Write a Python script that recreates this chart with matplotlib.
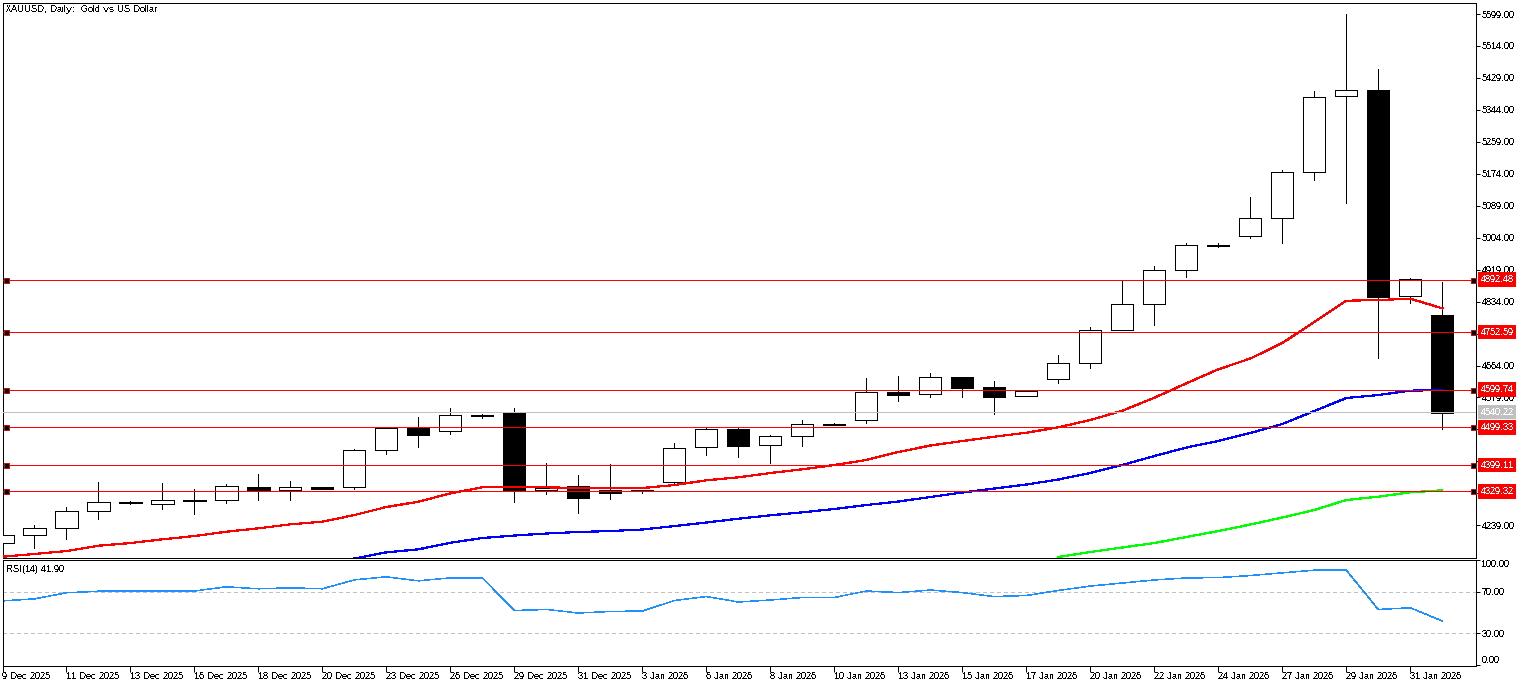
import numpy as np
import matplotlib
matplotlib.use("Agg")
import matplotlib.pyplot as plt

plt.rcParams['font.family'] = ['Liberation Sans', 'DejaVu Sans']
plt.rcParams['text.hinting'] = 'native'
plt.rcParams['text.hinting_factor'] = 1
FS = 6.5

opens = [4191.0, 4212.3, 4231.0, 4276.1, 4298.8, 4296.4, 4304.6, 4305.4, 4340.0, 4333.6,
         4340.0, 4340.0, 4438.4, 4497.0, 4489.0, 4530.7, 4540.3, 4333.6, 4342.6, 4332.8,
         4332.8, 4353.3, 4446.4, 4494.3, 4451.7, 4475.6, 4506.8, 4518.2, 4592.7, 4587.4,
         4633.4, 4606.8, 4582.0, 4627.3, 4669.8, 4757.6, 4826.8, 4917.2, 4982.4, 5008.4,
         5055.5, 5177.9, 5380.0, 5396.0, 4848.0, 4798.3]
closes = [4212.3, 4231.0, 4276.1, 4300.1, 4300.1, 4305.4, 4305.4, 4342.6, 4333.6, 4340.0,
          4336.3, 4438.4, 4497.0, 4479.9, 4531.5, 4531.5, 4333.6, 4338.1, 4312.3, 4325.7,
          4330.9, 4443.7, 4494.3, 4450.6, 4475.6, 4507.6, 4507.6, 4592.7, 4586.3, 4632.6,
          4604.9, 4581.0, 4595.3, 4669.8, 4757.6, 4826.8, 4917.2, 4984.5, 4983.7, 5056.3,
          5177.9, 5377.4, 5396.0, 4846.9, 4893.3, 4538.4]
highs = [4215.0, 4239.7, 4287.6, 4354.1, 4303.5, 4351.4, 4335.5, 4348.8, 4375.4, 4356.7,
         4340.0, 4441.9, 4497.7, 4527.0, 4550.9, 4535.8, 4550.9, 4403.8, 4372.7, 4401.1,
         4332.8, 4457.8, 4498.5, 4498.5, 4479.1, 4519.0, 4511.0, 4630.7, 4636.0, 4644.0,
         4633.4, 4622.7, 4599.6, 4691.9, 4765.6, 4888.7, 4928.6, 4989.8, 4989.8, 5112.2,
         5183.2, 5394.2, 5599.0, 5452.7, 4896.7, 4886.1]
lows = [4190.0, 4179.3, 4203.3, 4256.5, 4296.4, 4283.0, 4269.8, 4299.0, 4307.0, 4307.0,
        4336.3, 4336.3, 4429.4, 4448.0, 4482.6, 4525.1, 4301.7, 4323.0, 4272.4, 4309.7,
        4325.7, 4346.1, 4426.7, 4421.4, 4405.4, 4450.6, 4504.9, 4511.8, 4570.3, 4581.0,
        4581.0, 4535.8, 4582.0, 4618.2, 4658.1, 4757.6, 4772.5, 4900.2, 4979.2, 5003.1,
        4990.6, 5158.2, 5097.0, 4684.7, 4831.0, 4495.8]

ma_red = [4155.4, 4162.6, 4170.5, 4184.6, 4191.8, 4201.7, 4210.4, 4221.9, 4230.9, 4241.6,
          4248.5, 4266.3, 4287.6, 4301.7, 4324.0, 4340.0, 4340.8, 4340.0, 4338.1, 4338.1,
          4338.1, 4346.1, 4358.6, 4366.6, 4378.0, 4387.9, 4399.3, 4412.6, 4433.9, 4451.2,
          4463.1, 4474.6, 4485.2, 4499.6, 4519.0, 4543.7, 4578.3, 4616.6, 4653.9, 4682.6,
          4723.8, 4779.7, 4836.3, 4838.2, 4841.7, 4816.1]
# blue starts at bar 11, green at bar 33 (below the window before that)
ma_blue = [4150.6, 4167.1, 4175.0, 4192.6, 4205.1, 4211.8, 4217.1, 4221.1, 4223.7, 4227.7,
           4237.0, 4246.4, 4256.5, 4265.5, 4273.5, 4282.3, 4292.9, 4302.2, 4314.2, 4326.2,
           4336.8, 4347.4, 4360.7, 4378.0, 4399.3, 4423.2, 4445.8, 4463.1, 4484.4, 4508.4,
           4543.0, 4577.5, 4585.5, 4597.1, 4598.8]
ma_green = [4154.6, 4167.9, 4179.9, 4191.8, 4207.8, 4223.7, 4241.0, 4259.6, 4279.6, 4306.2,
            4315.0, 4326.7, 4332.0]

rsi = [61.1, 63.0, 68.8, 70.3, 70.3, 70.3, 70.5, 74.5, 72.6, 73.5,
       72.6, 81.1, 84.0, 80.2, 83.0, 83.0, 51.9, 52.9, 49.5, 51.0,
       51.4, 61.4, 65.2, 60.0, 61.9, 64.3, 64.3, 70.5, 69.0, 71.4,
       69.0, 65.2, 66.2, 71.0, 75.2, 78.1, 81.0, 82.9, 83.3, 85.2,
       87.8, 90.3, 90.3, 52.9, 54.5, 41.9]

red_levels = [4892.48, 4752.59, 4599.74, 4499.33, 4399.11, 4329.32]
gray_level = 4540.22

price_ticks = [5599, 5514, 5429, 5344, 5259, 5174, 5089, 5004, 4919, 4834,
               4749, 4664, 4579, 4494, 4409, 4324, 4239]
# these sit fully behind the red price boxes
hidden_ticks = [4749, 4494, 4324]
rsi_ticks = [100, 70, 30, 0]
date_labels = ['9 Dec 2025', '11 Dec 2025', '13 Dec 2025', '16 Dec 2025', '18 Dec 2025',
               '20 Dec 2025', '23 Dec 2025', '26 Dec 2025', '29 Dec 2025', '31 Dec 2025',
               '3 Jan 2026', '6 Jan 2026', '8 Jan 2026', '10 Jan 2026', '13 Jan 2026',
               '15 Jan 2026', '17 Jan 2026', '20 Jan 2026', '22 Jan 2026', '24 Jan 2026',
               '27 Jan 2026', '29 Jan 2026', '31 Jan 2026']

W, H = 1528, 686
L, R = 2.5, 1475.5


def box(top, bottom):
    return [L / W, 1 - bottom / H, (R - L) / W, (bottom - top) / H]


px = 72 / 100  # one pixel in points
fig = plt.figure(figsize=(W / 100, H / 100), dpi=100)
ax = fig.add_axes(box(2.5, 557.5))
ax2 = fig.add_axes(box(559.5, 665.5))

x = np.arange(len(opens))
o = np.array(opens)
c = np.array(closes)
up = c >= o

ax.vlines(x, lows, highs, color='k', lw=px, antialiased=False, zorder=2)
body = np.abs(c - o)
ax.bar(x[up], body[up], bottom=o[up], width=0.69, facecolor='white', edgecolor='k',
       linewidth=px, antialiased=False, zorder=3)
ax.bar(x[~up], body[~up], bottom=c[~up], width=0.69, facecolor='k', edgecolor='k',
       linewidth=px, antialiased=False, zorder=3)

ax.plot(x, ma_red, color='#ff0000', lw=1.2 * px, antialiased=False, zorder=4)
ax.plot(x[11:11 + len(ma_blue)], ma_blue, color='#0000ff', lw=1.2 * px, antialiased=False, zorder=4)
ax.plot(x[33:33 + len(ma_green)], ma_green, color='#00ff00', lw=1.2 * px, antialiased=False, zorder=4)

trans = ax.get_yaxis_transform()
left_mark = (5.5 - L) / (R - L)
right_mark = (1472.5 - L) / (R - L)
label_x = 1.0 + 5 / (R - L)
ax.axhline(gray_level, color='#c0c0c0', lw=px, antialiased=False, zorder=5)
ax.text(label_x, gray_level, f'{gray_level:.2f}', transform=trans, color='white',
        fontsize=FS, va='center', ha='left', clip_on=False, zorder=6, antialiased=False,
        bbox=dict(facecolor='#c0c0c0', edgecolor='none', pad=2.0))
for lev in red_levels:
    ax.axhline(lev, color='#ff0000', lw=px, antialiased=False, zorder=5)
    ax.plot([left_mark, right_mark], [lev, lev], transform=trans, ls='none', marker='s', ms=3.6,
            mfc='k', mec='#c01010', mew=px, zorder=6, clip_on=False)
    ax.text(label_x, lev, f'{lev:.2f}', transform=trans, color='white', fontsize=FS,
            va='center', ha='left', clip_on=False, zorder=6, antialiased=False,
            bbox=dict(facecolor='#ff0000', edgecolor='none', pad=2.0))

ax.set_xlim(0, (R - 2.3) / 32)
ax.set_ylim(5636.24 - 2.66 * 557.5, 5636.24 - 2.66 * 2.5)
ax.yaxis.tick_right()
ax.set_yticks(price_ticks)
ax.set_yticklabels(['' if t in hidden_ticks else f'{t:.2f}' for t in price_ticks], fontsize=FS)
ax.tick_params(axis='y', length=3, width=px, pad=1.5)
ax.set_xticks([])
ax.text(3.5 / (R - L), 1 - 7 / 555, 'XAUUSD, Daily:  Gold vs US Dollar', transform=ax.transAxes,
        fontsize=FS, va='center', ha='left', antialiased=False)

ax2.axhline(70, color='#c0c0c0', lw=px, ls=(0, (4, 3)), antialiased=False)
ax2.axhline(30, color='#c0c0c0', lw=px, ls=(0, (4, 3)), antialiased=False)
ax2.plot(x, rsi, color='#1e90ff', lw=0.5 * px, antialiased=False)
ax2.set_xlim(ax.get_xlim())
ax2.set_ylim(-0.5, 100.5)
ax2.yaxis.tick_right()
ax2.set_yticks(rsi_ticks)
ax2.set_yticklabels([f'{t:.2f}' for t in rsi_ticks], fontsize=FS)
ax2.tick_params(axis='y', length=3, width=px, pad=1.5)
ax2.get_yticklabels()[0].set_va('top')
ax2.get_yticklabels()[3].set_va('bottom')
ax2.set_xticks(x[::2][:len(date_labels)])
ax2.set_xticklabels(date_labels, fontsize=FS, ha='left')
ax2.tick_params(axis='x', length=4, width=px, pad=1)
ax2.text(3.5 / (R - L), 1 - 9.5 / 106, 'RSI(14) 41.90', transform=ax2.transAxes, fontsize=FS,
         va='center', ha='left', antialiased=False)

for a in (ax, ax2):
    for s in a.spines.values():
        s.set_linewidth(px)
        s.set_antialiased(False)
    for lab in a.get_xticklabels() + a.get_yticklabels():
        lab.set_antialiased(False)
    a.spines['bottom'].set_zorder(7)

fig.savefig('out.png', dpi=100)
